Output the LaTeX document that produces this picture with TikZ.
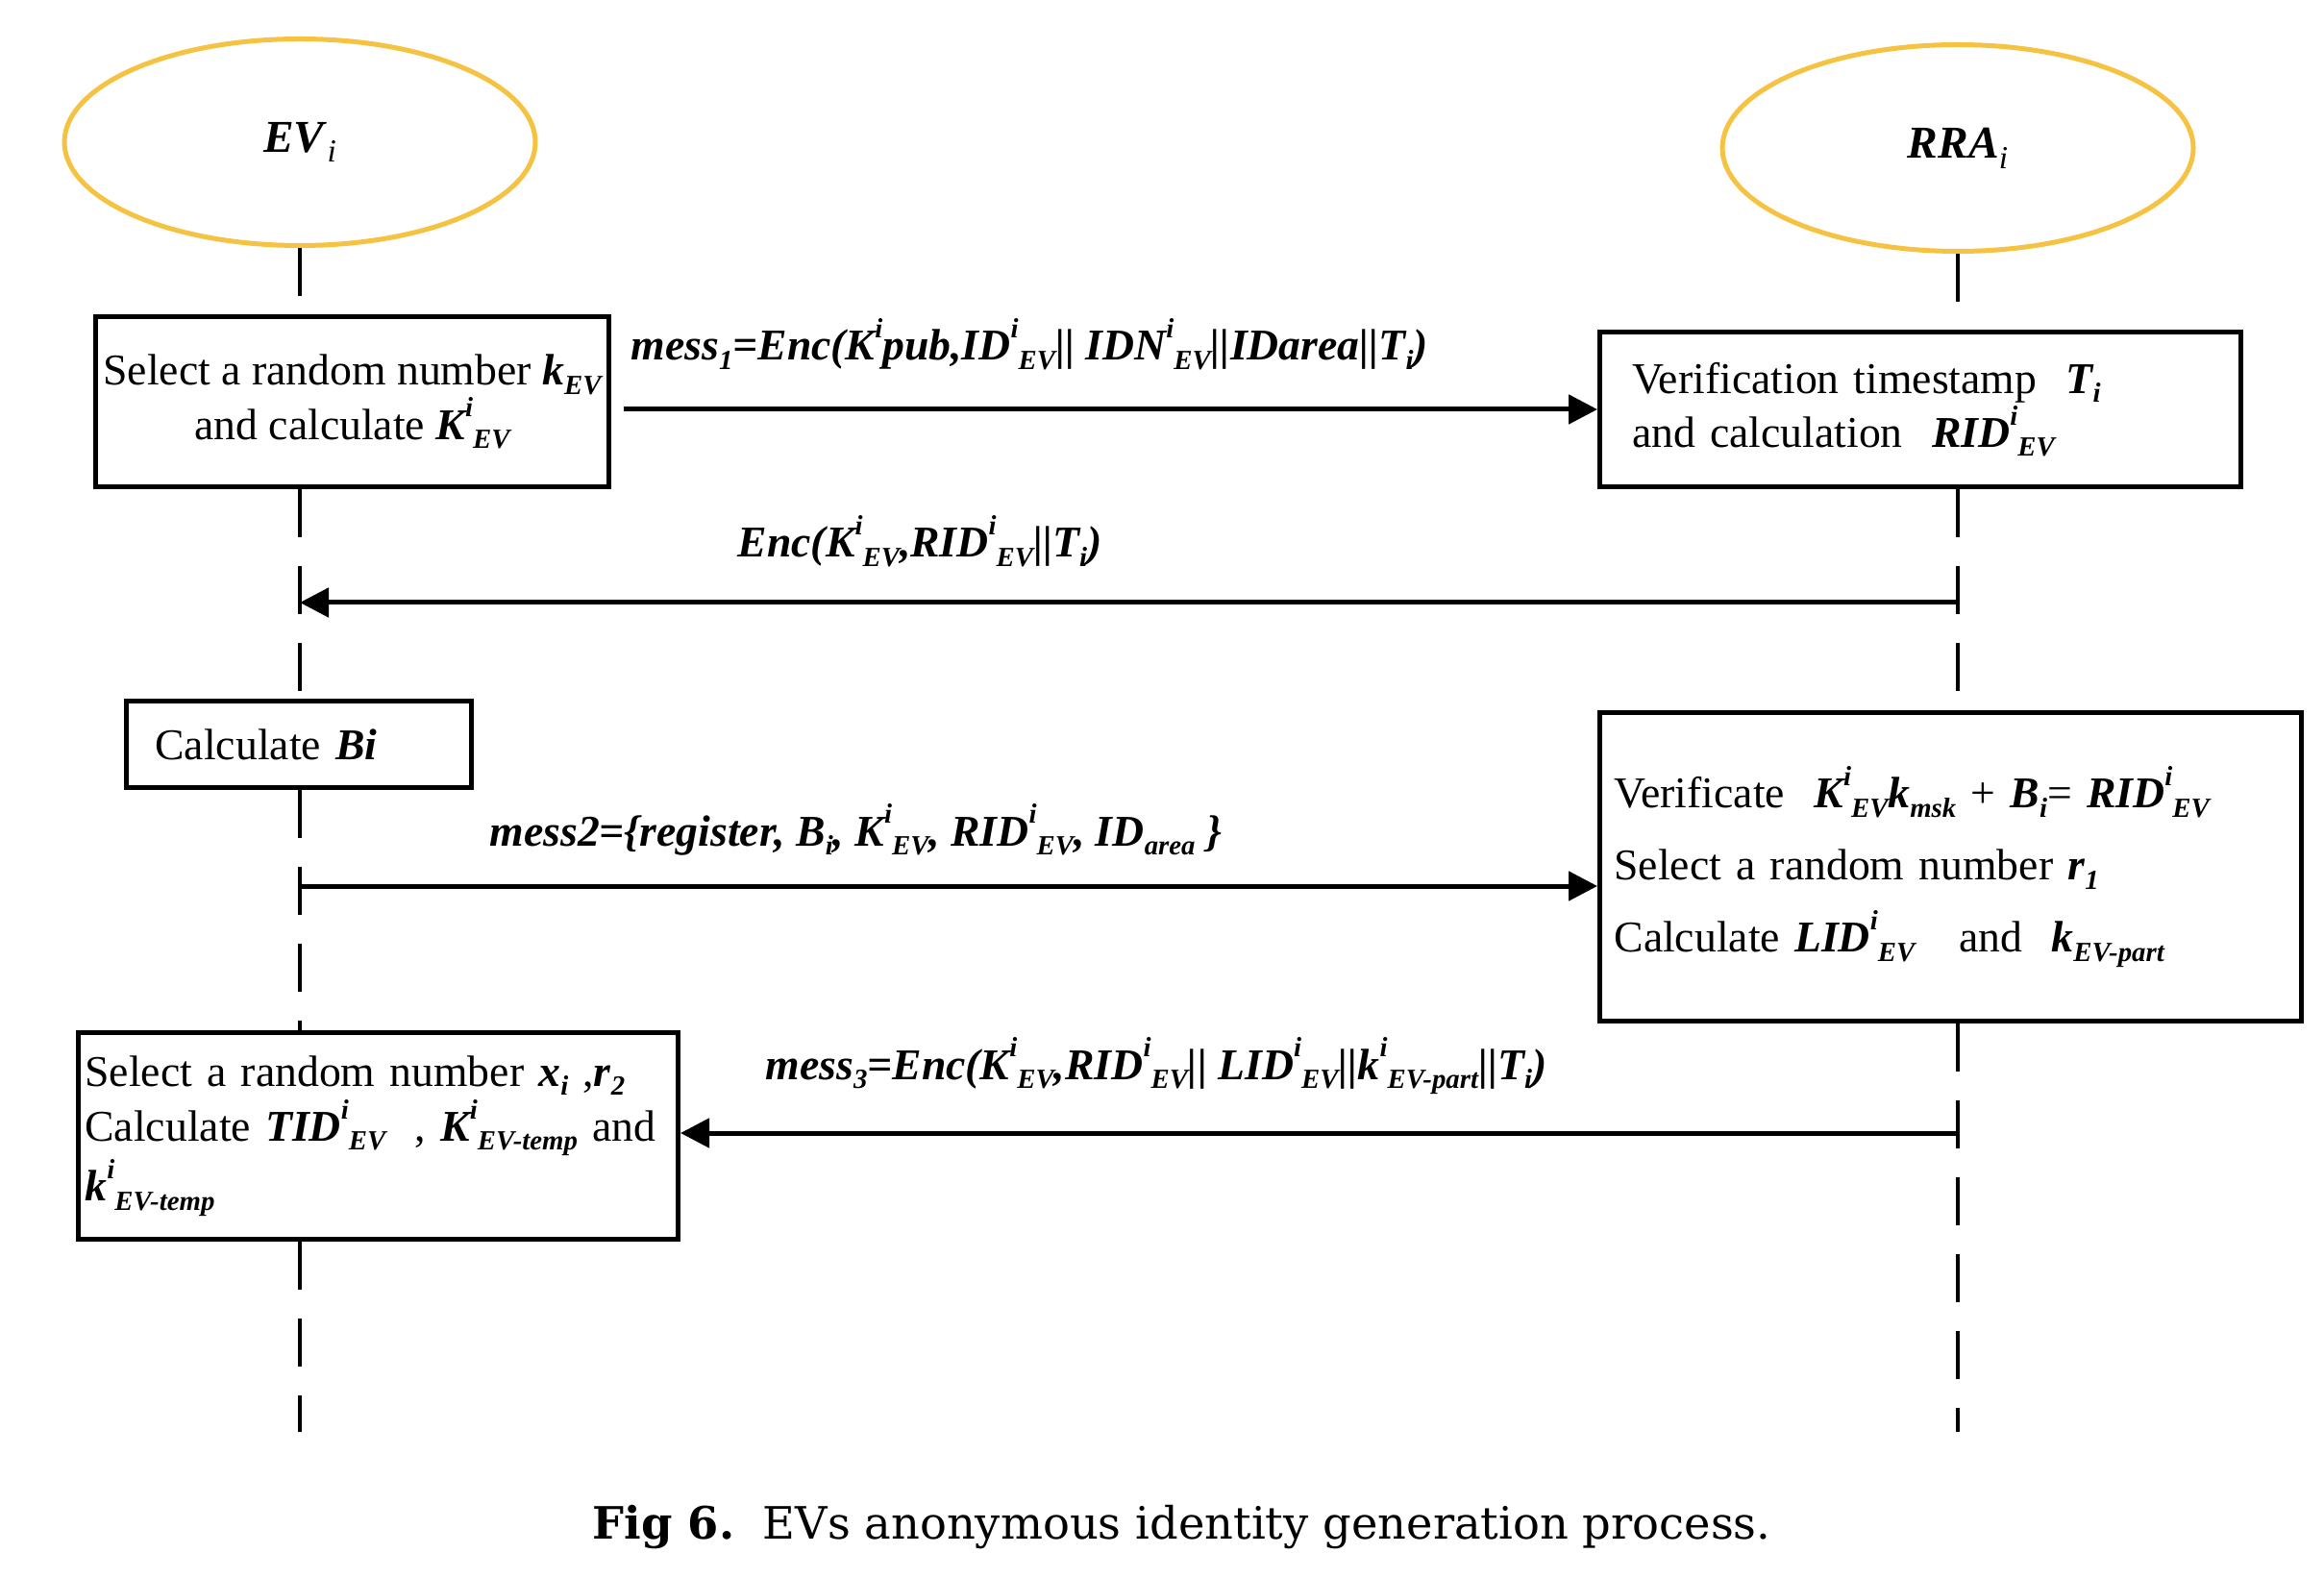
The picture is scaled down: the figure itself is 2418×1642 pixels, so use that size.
\documentclass[tikz,border=0pt]{standalone}
\usepackage{fontspec}
\setmainfont{Liberation Serif}
\newfontfamily\capfont{DejaVu Serif}
\usetikzlibrary{arrows.meta,shapes.geometric,positioning}
\newcommand{\bi}[1]{\textbf{\textit{#1}}}
\newcommand{\hiup}[1]{\raisebox{1.1ex}{\fontsize{8.2pt}{8.2pt}\selectfont #1}}
\newcommand{\lodn}[1]{\raisebox{-0.45ex}{\fontsize{8.2pt}{8.2pt}\selectfont #1}}

\begin{document}
\begin{tikzpicture}[x=0.1mm,y=-0.1mm]
\definecolor{partyColour}{RGB}{245, 194, 66}
			\tikzstyle{party}=[ellipse, draw=partyColour, line width=0.5mm, minimum width=49mm, minimum height=21.5mm, font=\fontsize{13.5pt}{16pt}\selectfont]
			\tikzstyle{stepbox}=[rectangle, draw, line width=0.5mm, inner ysep=0pt, font=\fontsize{13pt}{16pt}\selectfont]
			\tikzstyle{msg}=[line width=0.5mm, -{Triangle[length=3mm, width=3mm]}]
			\tikzstyle{life}=[line width=0.45mm, dash pattern=on 5mm off 3mm]
			\tikzstyle{lbl}=[anchor=base west, inner sep=0pt, font=\fontsize{13pt}{16pt}\selectfont\bfseries\itshape]

			\useasboundingbox (0,0) rectangle (2418,1642);

			\node [party] (ev) at (312,148) {\bi{EV}\raisebox{-0.5ex}{\fontsize{9.5pt}{9.5pt}\selectfont\textit{i}}};
			\node [party] (rra) at (2037,154) {\bi{RRA}\raisebox{-0.5ex}{\fontsize{9.5pt}{9.5pt}\selectfont\textit{i}}};

			\node [stepbox, minimum width=53.4mm, minimum height=17.7mm, inner xsep=0pt, align=center] (evA) at (366.5,418) {Select a random number \bi{k\lodn{EV}}\\ and calculate \bi{K\hiup{i}\lodn{EV}}};
			\node [stepbox, minimum width=66.7mm, minimum height=16.1mm, text width=60mm, inner xsep=3.2mm, align=left] (rraA) at (1998,426) {Verification timestamp~~\bi{T\lodn{i}}\\ and calculation~~\bi{RID\hiup{i}\lodn{EV}}};
			\node [stepbox, minimum width=35.9mm, minimum height=9mm, text width=29.9mm, inner xsep=3mm, align=left] (evB) at (311,774.5) {Calculate \bi{Bi}};
			\node [stepbox, minimum width=73mm, minimum height=32.1mm, text width=70mm, inner xsep=1.4mm, align=left, font=\fontsize{13pt}{21.3pt}\selectfont] (rraB) at (2029.5,902) {Verificate~~\bi{K\hiup{i}\lodn{EV}k\lodn{msk}} + \bi{B\lodn{i}}= \bi{RID\hiup{i}\lodn{EV}}\\ Select a random number \bi{r\lodn{1}}\\ Calculate \bi{LID\hiup{i}\lodn{EV}}~~~and~~\bi{k\lodn{EV-part}}};
			\node [stepbox, minimum width=62.4mm, minimum height=21.5mm, text width=61mm, inner xsep=0.7mm, align=left, font=\fontsize{13pt}{16.2pt}\selectfont] (evC) at (393.5,1182) {\mbox{Select a random number \bi{x\lodn{i}} ,\bi{r\lodn{2}}}\\ \mbox{Calculate \bi{TID\hiup{i}\lodn{EV}}~~, \bi{K\hiup{i}\lodn{EV-temp}} and}\\ \bi{k\hiup{i}\lodn{EV-temp}}};

			\coordinate (evL2) at (312,627);
			\coordinate (evL3) at (312,922);
			\coordinate (evEnd) at (312,1490);
			\coordinate (rraL2) at (2037,627);
			\coordinate (rraL4) at (2037,1179);
			\coordinate (rraEnd) at (2037,1490);

			% lifelines
			\draw [life] (ev.south) -- (ev.south |- evA.north);
			\draw [life] (ev.south |- evA.south) -- (ev.south |- evB.north);
			\draw [life] (ev.south |- evB.south) -- (ev.south |- evC.north);
			\draw [life] (ev.south |- evC.south) -- (evEnd);
			\draw [life] (rra.south) -- (rra.south |- rraA.north);
			\draw [life] (rra.south |- rraA.south) -- (rra.south |- rraB.north);
			\draw [life] (rra.south |- rraB.south) -- (rraEnd);

			% messages
			\draw [msg] ([xshift=1.3mm]evA.east |- rraA.west) -- (rraA.west);
			\draw [msg] (rraL2) -- (evL2);
			\draw [msg] (evL3) -- (evL3 -| rraB.west);
			\draw [msg] (rraL4) -- (rraL4 -| evC.east);

			\node [lbl] (m1) at (656,375) {mess\lodn{1}=Enc(K\hiup{i}pub,ID\hiup{i}\lodn{EV}|| IDN\hiup{i}\lodn{EV}||IDarea||T\lodn{i})};
			\node [lbl] (m2) at (767,580) {Enc(K\hiup{i}\lodn{EV},RID\hiup{i}\lodn{EV}||T\lodn{i})};
			\node [lbl] (m3) at (509,880) {mess2=\{register, B\lodn{i}, K\hiup{i}\lodn{EV}, RID\hiup{i}\lodn{EV}, ID\lodn{area} \}};
			\node [lbl] (m4) at (796,1123) {mess\lodn{3}=Enc(K\hiup{i}\lodn{EV},RID\hiup{i}\lodn{EV}|| LID\hiup{i}\lodn{EV}||k\hiup{i}\lodn{EV-part}||T\lodn{i})};

			\node [anchor=base west, inner sep=0pt, font=\capfont\fontsize{13.2pt}{16pt}\selectfont] (cap) at (616,1601) {\textbf{Fig 6.}\ \ EVs anonymous identity generation process.};
		\end{tikzpicture}
\end{document}
